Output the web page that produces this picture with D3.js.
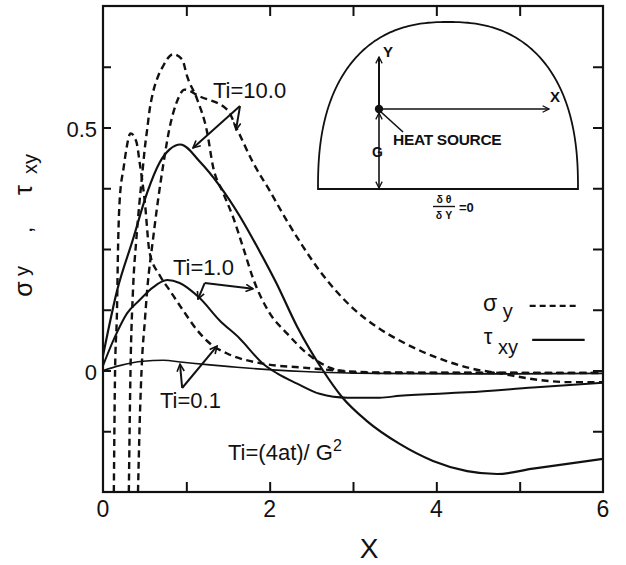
<!DOCTYPE html>
<html>
<head>
<meta charset="utf-8">
<script src="https://cdn.jsdelivr.net/npm/d3@7"></script>
<style>
  html, body { margin: 0; padding: 0; background: #fff; }
  svg { display: block; }
  text { font-family: "Liberation Sans", Arial, Helvetica, sans-serif; fill: #111; }
</style>
</head>
<body>
<svg id="chart" width="626" height="565"></svg>
<script>
// Stress distributions along the surface, X = x/G, for three dimensionless times Ti.
// Each entry is [X, stress].
const sigmaTi01 = [[0.13,-0.25],[0.145,0.0],[0.168,0.124],[0.18,0.248],[0.20,0.35],[0.25,0.42],
  [0.28,0.455],[0.33,0.488],[0.40,0.471],[0.44,0.428],[0.50,0.35],[0.56,0.242],[0.68,0.196],
  [0.80,0.165],[0.96,0.124],[1.13,0.083],[1.28,0.056],[1.49,0.035],[1.92,0.014],[2.4,0.006],
  [3.3,-0.004],[6.0,-0.005]];
const sigmaTi1 = [[0.31,-0.25],[0.33,0.0],[0.36,0.165],[0.40,0.27],[0.44,0.35],[0.48,0.42],
  [0.50,0.455],[0.53,0.496],[0.56,0.537],[0.60,0.572],[0.66,0.605],[0.72,0.626],[0.84,0.651],
  [0.95,0.64],[1.01,0.605],[1.13,0.558],[1.25,0.49],[1.32,0.42],[1.44,0.366],[1.56,0.316],
  [1.68,0.254],[1.80,0.19],[2.0,0.118],[2.21,0.076],[2.45,0.035],[2.72,0.006],[3.0,-0.004],
  [3.3,-0.005],[6.0,-0.005]];
const sigmaTi10 = [[0.42,-0.25],[0.44,-0.11],[0.47,0.027],[0.50,0.097],[0.53,0.165],[0.60,0.27],
  [0.66,0.35],[0.72,0.42],[0.80,0.50],[0.88,0.55],[0.98,0.578],[1.16,0.564],[1.49,0.537],
  [1.61,0.496],[1.80,0.428],[2.0,0.37],[2.2,0.31],[2.4,0.255],[2.6,0.205],[2.8,0.163],
  [3.0,0.128],[3.3,0.088],[3.6,0.058],[4.0,0.027],[4.4,0.005],[4.8,-0.007],[5.21,-0.019],
  [5.6,-0.024],[6.0,-0.024]];
const tauTi01 = [[0.0,0.0],[0.2,0.01],[0.48,0.019],[0.72,0.021],[0.96,0.017],[1.25,0.012],
  [1.52,0.008],[1.8,0.004],[2.4,-0.002],[3.3,-0.006],[4.5,-0.007],[6.0,-0.006]];
const tauTi1 = [[0.0,0.01],[0.14,0.068],[0.29,0.118],[0.44,0.145],[0.60,0.171],[0.77,0.186],
  [0.92,0.18],[1.16,0.149],[1.40,0.103],[1.64,0.066],[1.92,0.014],[2.09,-0.006],[2.33,-0.027],
  [2.60,-0.048],[2.93,-0.056],[3.32,-0.056],[3.56,-0.052],[4.37,-0.045],[5.16,-0.035],[6.0,-0.025]];
const tauTi10 = [[0.0,0.03],[0.17,0.165],[0.36,0.27],[0.53,0.366],[0.68,0.428],[0.80,0.455],
  [0.93,0.465],[1.16,0.43],[1.40,0.38],[1.64,0.318],[1.88,0.245],[2.08,0.18],[2.33,0.09],
  [2.64,0.0],[2.87,-0.055],[3.16,-0.103],[3.56,-0.151],[3.96,-0.186],[4.37,-0.207],[4.73,-0.213],
  [5.16,-0.202],[5.57,-0.192],[6.0,-0.182]];

const xTickValues = [1, 2, 3, 4, 5];
const xTickLabels = [0, 2, 4, 6];
const yTickValues = [-0.125, 0, 0.125, 0.25, 0.375, 0.5, 0.625];
const yTickLabels = [0, 0.5];
const timeLabels = ["Ti=10.0", "Ti=1.0", "Ti=0.1"];

const svg = d3.select("#chart");
const W = 626, H = 565;
const plot = { left: 103, right: 603, top: 6, bottom: 492 };

const x = d3.scaleLinear().domain([0, 6]).range([plot.left, plot.right]);
const y = d3.scaleLinear().domain([-0.25, 0.75]).range([plot.bottom, plot.top]);

svg.append("rect").attr("width", W).attr("height", H).attr("fill", "#fff");

// clip region for the curves
const defs = svg.append("defs");
defs.append("clipPath").attr("id", "plotClip")
  .append("rect")
  .attr("x", plot.left).attr("y", plot.top)
  .attr("width", plot.right - plot.left).attr("height", plot.bottom - plot.top);

// open arrowheads used by annotations and the inset
function addHead(id, size, sw) {
  defs.append("marker")
    .attr("id", id).attr("viewBox", "0 0 10 10")
    .attr("refX", 9).attr("refY", 5)
    .attr("markerWidth", size).attr("markerHeight", size)
    .attr("markerUnits", "userSpaceOnUse")
    .attr("orient", "auto-start-reverse")
    .append("path").attr("d", "M1,1 L9,5 L1,9")
    .attr("fill", "none").attr("stroke", "#111").attr("stroke-width", sw);
}
addHead("head", 9, 1.8);
addHead("headS", 8, 1.6);

// ---- curves ----
const line = d3.line()
  .x(d => x(d[0])).y(d => y(d[1]))
  .curve(d3.curveMonotoneX);

const curves = svg.append("g").attr("clip-path", "url(#plotClip)");
const series = [
  { data: sigmaTi01, dash: true,  w: 2.4 },
  { data: sigmaTi1,  dash: true,  w: 2.4 },
  { data: sigmaTi10, dash: true,  w: 2.4 },
  { data: tauTi01,   dash: false, w: 1.6 },
  { data: tauTi1,    dash: false, w: 2.0 },
  { data: tauTi10,   dash: false, w: 2.2 }
];
curves.selectAll("path.curve").data(series).join("path")
  .attr("class", "curve")
  .attr("d", d => line(d.data))
  .attr("fill", "none")
  .attr("stroke", "#111")
  .attr("stroke-width", d => d.w)
  .attr("stroke-dasharray", d => d.dash ? "7,4.5" : null);

// ---- frame and ticks ----
const axes = svg.append("g");
axes.append("rect")
  .attr("x", plot.left).attr("y", plot.top)
  .attr("width", plot.right - plot.left).attr("height", plot.bottom - plot.top)
  .attr("fill", "none").attr("stroke", "#111").attr("stroke-width", 2.2);

const bottomAxis = d3.axisBottom(x).tickValues(xTickValues).tickSize(-10).tickFormat("");
const topAxis = d3.axisTop(x).tickValues(xTickValues).tickSize(-10).tickFormat("");
const leftAxis = d3.axisLeft(y).tickValues(yTickValues).tickSize(-8).tickFormat("");
const rightAxis = d3.axisRight(y).tickValues(yTickValues).tickSize(-10).tickFormat("");

function styleAxis(g) {
  g.select(".domain").remove();
  g.selectAll(".tick line").attr("stroke", "#111").attr("stroke-width", 2);
}
axes.append("g").attr("transform", `translate(0,${plot.bottom})`).call(bottomAxis).call(styleAxis);
axes.append("g").attr("transform", `translate(0,${plot.top})`).call(topAxis).call(styleAxis);
axes.append("g").attr("transform", `translate(${plot.left},0)`).call(leftAxis).call(styleAxis);
axes.append("g").attr("transform", `translate(${plot.right},0)`).call(rightAxis).call(styleAxis);

// tick labels
svg.append("g").selectAll("text").data(xTickLabels).join("text")
  .attr("x", d => x(d)).attr("y", plot.bottom + 25)
  .attr("text-anchor", "middle").attr("font-size", 23)
  .text(d => d);
svg.append("g").selectAll("text").data(yTickLabels).join("text")
  .attr("x", 97).attr("y", d => y(d) + 9)
  .attr("text-anchor", "end").attr("font-size", 22)
  .text(d => d);

// axis titles
svg.append("text")
  .attr("x", 369).attr("y", 558)
  .attr("text-anchor", "middle").attr("font-size", 28)
  .text("X");

// vertical title "σy , τxy", set piece by piece along the left margin
const yTitleParts = [
  { t: "σ",  cy: 289, bx: 32, size: 25 },
  { t: "y",  cy: 271, bx: 29, size: 20 },
  { t: ",",  cy: 230, bx: 32, size: 22 },
  { t: "τ",  cy: 190, bx: 32, size: 25 },
  { t: "xy", cy: 164, bx: 37, size: 20 }
];
svg.append("g").selectAll("text").data(yTitleParts).join("text")
  .attr("transform", d => `translate(${d.bx},${d.cy}) rotate(-90)`)
  .attr("text-anchor", "middle")
  .attr("font-size", d => d.size)
  .text(d => d.t);

// ---- annotations ----
const ann = svg.append("g");
function arrow(x0, y0, x1, y1) {
  ann.append("line")
    .attr("x1", x(x0)).attr("y1", y(y0)).attr("x2", x(x1)).attr("y2", y(y1))
    .attr("stroke", "#111").attr("stroke-width", 2)
    .attr("marker-end", "url(#head)");
}
function label(t, x0, y0, size) {
  return ann.append("text").attr("x", x(x0)).attr("y", y(y0))
    .attr("font-size", size || 22).text(t);
}

label(timeLabels[0], 1.32, 0.561);
arrow(1.644, 0.544, 1.08, 0.458);
arrow(1.644, 0.544, 1.596, 0.495);

label(timeLabels[1], 0.84, 0.196);
arrow(1.22, 0.18, 1.14, 0.147);
arrow(1.22, 0.18, 1.80, 0.168);

label(timeLabels[2], 0.684, -0.077);
arrow(0.95, -0.036, 0.924, 0.013);
arrow(0.95, -0.036, 1.368, 0.050);

const defText = label("Ti=(4at)/ G", 1.5, -0.184);
defText.append("tspan").attr("dy", -9).attr("font-size", 16).text("2");

// ---- legend ----
const leg = svg.append("g");
const legSigma = leg.append("text").attr("x", x(4.56)).attr("y", y(0.122)).attr("font-size", 23);
legSigma.append("tspan").text("σ");
legSigma.append("tspan").attr("dy", 7).attr("font-size", 20).text(" y");
leg.append("line")
  .attr("x1", x(5.12)).attr("x2", x(5.72)).attr("y1", y(0.133)).attr("y2", y(0.133))
  .attr("stroke", "#111").attr("stroke-width", 2.4).attr("stroke-dasharray", "6,4");
const legTau = leg.append("text").attr("x", x(4.57)).attr("y", y(0.054)).attr("font-size", 22);
legTau.append("tspan").text("τ");
legTau.append("tspan").attr("dy", 10).attr("font-size", 20).text(" xy");
leg.append("line")
  .attr("x1", x(5.15)).attr("x2", x(5.78)).attr("y1", y(0.063)).attr("y2", y(0.063))
  .attr("stroke", "#111").attr("stroke-width", 2.2);

// ---- inset sketch: half-space with a line heat source at depth G ----
const inset = svg.append("g");
const cx = 448, baseY = 189, a = 130, b = 167, n = 2.4;
const outline = d3.range(0, 180.5, 1).map(deg => {
  const t = deg * Math.PI / 180;
  const c = Math.cos(t), s = Math.sin(t);
  const px = cx + a * Math.sign(c) * Math.pow(Math.abs(c), 2 / n);
  const py = baseY - b * Math.pow(Math.abs(s), 2 / n);
  return [px, py];
});
inset.append("path")
  .attr("d", d3.line()(outline) + "Z")
  .attr("fill", "none").attr("stroke", "#111").attr("stroke-width", 1.8);

const src = [379, 109];
inset.append("line").attr("x1", src[0]).attr("y1", src[1]).attr("x2", src[0]).attr("y2", 57)
  .attr("stroke", "#111").attr("stroke-width", 2).attr("marker-end", "url(#headS)");
inset.append("line").attr("x1", src[0]).attr("y1", src[1]).attr("x2", 549).attr("y2", src[1])
  .attr("stroke", "#111").attr("stroke-width", 1.6).attr("marker-end", "url(#headS)");
inset.append("line").attr("x1", src[0]).attr("y1", 113).attr("x2", src[0]).attr("y2", 188)
  .attr("stroke", "#111").attr("stroke-width", 1.6)
  .attr("marker-start", "url(#headS)").attr("marker-end", "url(#headS)");
inset.append("line").attr("x1", src[0] + 2).attr("y1", src[1] + 3).attr("x2", 403).attr("y2", 132)
  .attr("stroke", "#111").attr("stroke-width", 1.6);
inset.append("circle").attr("cx", src[0]).attr("cy", src[1]).attr("r", 4.2).attr("fill", "#111");

inset.append("text").attr("x", 383).attr("y", 57).attr("font-size", 15).attr("font-weight", "bold").text("Y");
inset.append("text").attr("x", 550).attr("y", 102).attr("font-size", 15).attr("font-weight", "bold").text("X");
inset.append("text").attr("x", 393).attr("y", 145).attr("font-size", 15.5).attr("font-weight", "bold")
  .attr("letter-spacing", -0.3).text("HEAT SOURCE");
inset.append("text").attr("x", 372).attr("y", 157).attr("font-size", 14).attr("font-weight", "bold").text("G");

inset.append("text").attr("x", 444).attr("y", 203).attr("text-anchor", "middle")
  .attr("font-size", 10.5).attr("font-weight", "bold").text("δ θ");
inset.append("line").attr("x1", 433).attr("x2", 455).attr("y1", 206.5).attr("y2", 206.5)
  .attr("stroke", "#111").attr("stroke-width", 1.4);
inset.append("text").attr("x", 444).attr("y", 219).attr("text-anchor", "middle")
  .attr("font-size", 10.5).attr("font-weight", "bold").text("δ Y");
inset.append("text").attr("x", 459).attr("y", 212).attr("font-size", 13).attr("font-weight", "bold").text("=0");
</script>
</body>
</html>
